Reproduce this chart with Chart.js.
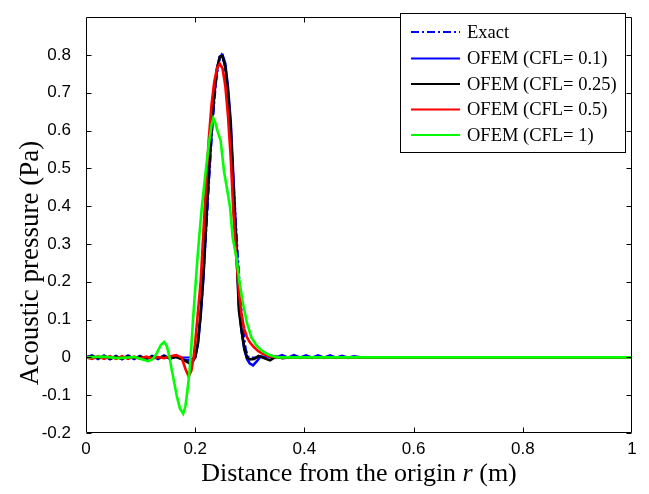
<!DOCTYPE html>
<html>
<head>
<meta charset="utf-8">
<script src="https://cdn.jsdelivr.net/npm/chart.js@4/dist/chart.umd.min.js"></script>
<style>
html,body{margin:0;padding:0;background:#fff;}
canvas{display:block;}
</style>
</head>
<body>
<canvas id="c" width="649" height="494"></canvas>
<script>
// ---- data ----
const seriesLabels = ["Exact", "OFEM (CFL= 0.1)", "OFEM (CFL= 0.25)", "OFEM (CFL= 0.5)", "OFEM (CFL= 1)"];
const xTitleParts = ["Distance from the origin ", "r", " (m)"];
const yTitle = "Acoustic pressure (Pa)";
const xTicks = [0, 0.2, 0.4, 0.6, 0.8, 1];
const yTicks = [-0.2, -0.1, 0, 0.1, 0.2, 0.3, 0.4, 0.5, 0.6, 0.7, 0.8];

const exactX = [0, 0.198, 0.203, 0.208, 0.213, 0.218, 0.223, 0.228, 0.233, 0.238, 0.243, 0.248, 0.253, 0.258, 0.263, 0.268, 0.273, 0.278, 0.283, 0.288, 0.293, 0.298, 1];
const exactY = [0, 0, 0.02, 0.076, 0.165, 0.276, 0.4, 0.524, 0.635, 0.724, 0.78, 0.8, 0.78, 0.724, 0.635, 0.524, 0.4, 0.276, 0.165, 0.076, 0.02, 0, 0];

const cfl01X = [0, 0.011, 0.022, 0.033, 0.044, 0.055, 0.066, 0.077, 0.088, 0.099, 0.110, 0.121, 0.132, 0.143, 0.154, 0.165, 0.176, 0.187, 0.195, 0.2,
  0.205, 0.21, 0.215, 0.22, 0.225, 0.23, 0.235, 0.24, 0.245, 0.25, 0.255, 0.26, 0.265, 0.27, 0.275, 0.28, 0.285, 0.29, 0.295, 0.3,
  0.306, 0.313, 0.32, 0.328, 0.337, 0.348, 0.359, 0.37, 0.381, 0.392, 0.403, 0.414, 0.425, 0.436, 0.447, 0.458, 0.469, 0.48, 0.491, 0.502, 0.52, 1];
const cfl01Y = [0, 0.005, -0.004, 0.005, -0.005, 0.004, -0.005, 0.005, -0.004, 0.004, -0.005, 0.004, -0.004, 0.005, -0.004, 0.003, -0.005, -0.008, -0.004, 0.0,
  0.035, 0.11, 0.21, 0.35, 0.48, 0.6, 0.695, 0.762, 0.795, 0.8, 0.778, 0.715, 0.625, 0.475, 0.32, 0.14, 0.07, 0.02, -0.005, -0.016,
  -0.021, -0.01, 0.003, 0.0, 0.006, -0.001, 0.006, -0.001, 0.006, -0.001, 0.005, -0.001, 0.005, -0.001, 0.005, -0.001, 0.004, -0.001, 0.003, 0, 0, 0];

const cfl025X = [0, 0.011, 0.022, 0.033, 0.044, 0.055, 0.066, 0.077, 0.088, 0.099, 0.11, 0.121, 0.132, 0.143, 0.154, 0.165, 0.175, 0.185, 0.19, 0.195, 0.2,
  0.205, 0.21, 0.215, 0.22, 0.225, 0.23, 0.235, 0.24, 0.245, 0.25, 0.255, 0.26, 0.265, 0.27, 0.275, 0.28, 0.285, 0.29, 0.295, 0.3,
  0.308, 0.316, 0.326, 0.337, 0.348, 0.36, 0.38, 0.4, 1];
const cfl025Y = [0, 0.003, -0.002, 0.003, -0.003, 0.002, -0.003, 0.003, -0.002, 0.002, -0.003, 0.002, -0.002, 0.003, -0.002, 0.001, -0.004, -0.012, -0.016, -0.012, 0.0,
  0.04, 0.12, 0.22, 0.36, 0.49, 0.61, 0.70, 0.765, 0.795, 0.797, 0.77, 0.705, 0.61, 0.45, 0.30, 0.125, 0.07, 0.025, 0.0, -0.005,
  -0.004, 0.004, -0.002, -0.008, 0.002, -0.002, 0.001, 0, 0];

const cfl05X = [0, 0.011, 0.022, 0.033, 0.044, 0.055, 0.066, 0.077, 0.088, 0.099, 0.11, 0.121, 0.132, 0.143, 0.155, 0.165, 0.175, 0.182, 0.188, 0.193, 0.197, 0.2,
  0.205, 0.21, 0.215, 0.22, 0.225, 0.23, 0.235, 0.24, 0.245, 0.25, 0.255, 0.26, 0.265, 0.27, 0.275, 0.28, 0.285, 0.29, 0.295, 0.3,
  0.307, 0.315, 0.325, 0.335, 0.35, 1];
const cfl05Y = [0, -0.004, 0.003, -0.004, 0.003, -0.004, 0.003, -0.004, 0.002, -0.003, 0.002, -0.003, 0.001, -0.002, 0.003, 0.006, 0.0, -0.03, -0.05, -0.035, 0.0, 0.04,
  0.12, 0.2, 0.33, 0.46, 0.58, 0.67, 0.73, 0.765, 0.777, 0.765, 0.72, 0.64, 0.53, 0.38, 0.27, 0.175, 0.11, 0.075, 0.053, 0.04,
  0.028, 0.017, 0.008, 0.003, 0, 0];

const cfl1X = [0, 0.03, 0.06, 0.09, 0.105, 0.114, 0.122, 0.13, 0.137, 0.143, 0.148, 0.153, 0.157, 0.162, 0.166, 0.172, 0.178, 0.182, 0.186, 0.19,
  0.193, 0.196, 0.2, 0.204, 0.208, 0.212, 0.219, 0.225, 0.23, 0.233, 0.237, 0.241, 0.2465, 0.253, 0.259, 0.264, 0.2685, 0.275, 0.281, 0.288,
  0.295, 0.303, 0.312, 0.322, 0.335, 0.35, 1];
const cfl1Y = [0, 0.002, -0.002, 0.001, -0.006, -0.01, -0.005, 0.012, 0.033, 0.041, 0.03, 0.0, -0.033, -0.07, -0.101, -0.135, -0.149, -0.13, -0.085, -0.03,
  0.03, 0.1, 0.18, 0.26, 0.33, 0.395, 0.49, 0.565, 0.615, 0.633, 0.62, 0.598, 0.574, 0.49, 0.44, 0.395, 0.318, 0.267, 0.2, 0.138,
  0.09, 0.053, 0.032, 0.018, 0.007, 0, 0];

// ---- build chart ----
function pts(xs, ys) { return xs.map((x, i) => ({x: x, y: ys[i]})); }

const colors = ['#0000ff', '#0000ff', '#000000', '#ff0000', '#00ff00'];
const dashes = [[8, 3, 2, 3], [], [], [], []];
const seriesX = [exactX, cfl01X, cfl025X, cfl05X, cfl1X];
const seriesY = [exactY, cfl01Y, cfl025Y, cfl05Y, cfl1Y];

const datasets = seriesLabels.map((lab, i) => ({
  label: lab,
  data: pts(seriesX[i], seriesY[i]),
  borderColor: colors[i],
  borderWidth: i === 0 ? 2 : 2.6,
  borderDash: dashes[i],
  pointRadius: 0,
  tension: 0,
  fill: false,
  order: 5 - i
}));

const framePlugin = {
  id: 'frame',
  afterDatasetsDraw(chart) {
    const ctx = chart.ctx;
    const a = chart.chartArea;
    const xs = chart.scales.x, ys = chart.scales.y;
    const L = Math.round(a.left) + 0.5, R = Math.round(a.right) - 0.5;
    const T = Math.round(a.top) + 0.5, B = Math.round(a.bottom) - 0.5;
    ctx.save();
    ctx.strokeStyle = '#000';
    ctx.lineWidth = 1;
    ctx.beginPath();
    ctx.rect(L, T, R - L, B - T);
    ctx.stroke();
    const tl = 5;
    ctx.beginPath();
    yTicks.forEach(v => {
      const p = Math.round(ys.getPixelForValue(v)) + 0.5;
      ctx.moveTo(L, p); ctx.lineTo(L + tl, p);
      ctx.moveTo(R, p); ctx.lineTo(R - tl, p);
    });
    xTicks.forEach(v => {
      if (v === 0 || v === 1) return;
      const p = Math.round(xs.getPixelForValue(v)) + 0.5;
      ctx.moveTo(p, B); ctx.lineTo(p, B - tl);
      ctx.moveTo(p, T); ctx.lineTo(p, T + tl);
    });
    ctx.stroke();

    // x-axis title with italic r
    const styles = ['normal', 'italic', 'normal'];
    const size = 26;
    const widths = [];
    let total = 0;
    xTitleParts.forEach((t, i) => { ctx.font = styles[i] + ' ' + size + 'px "Liberation Serif"'; widths[i] = ctx.measureText(t).width; total += widths[i]; });
    let x = (a.left + a.right) / 2 - total / 2;
    ctx.fillStyle = '#000';
    ctx.textBaseline = 'alphabetic';
    ctx.textAlign = 'left';
    xTitleParts.forEach((t, i) => { ctx.font = styles[i] + ' ' + size + 'px "Liberation Serif"'; ctx.fillText(t, x, 481); x += widths[i]; });

    // y-axis title
    ctx.save();
    ctx.translate(38, 263);
    ctx.rotate(-Math.PI / 2);
    ctx.font = '27px "Liberation Serif"';
    ctx.textAlign = 'center';
    ctx.textBaseline = 'alphabetic';
    ctx.fillText(yTitle, 0, 0);
    ctx.restore();

    // legend
    const bx = 400.5, by = 13.5, bw = 225, bh = 139;
    ctx.fillStyle = '#fff';
    ctx.fillRect(bx, by, bw, bh);
    ctx.strokeStyle = '#000';
    ctx.lineWidth = 1;
    ctx.strokeRect(bx, by, bw, bh);
    const rows = [32, 58.5, 84, 109.5, 135];
    ctx.font = '18.5px "Liberation Serif"';
    ctx.textBaseline = 'middle';
    chart.data.datasets.forEach((ds, i) => {
      const y = rows[i];
      ctx.strokeStyle = ds.borderColor;
      ctx.lineWidth = 2;
      ctx.setLineDash(ds.borderDash || []);
      ctx.beginPath(); ctx.moveTo(411, y); ctx.lineTo(460, y); ctx.stroke();
      ctx.setLineDash([]);
      ctx.fillStyle = '#000';
      ctx.fillText(ds.label, 467, y + 1);
    });
    ctx.restore();
  }
};

new Chart(document.getElementById('c'), {
  type: 'line',
  data: { datasets: datasets },
  options: {
    responsive: false,
    animation: false,
    devicePixelRatio: 1,
    layout: { padding: { top: 5, right: 17, left: 0, bottom: 0 } },
    plugins: { legend: { display: false }, tooltip: { enabled: false } },
    scales: {
      x: {
        type: 'linear', min: 0, max: 1, position: 'bottom',
        grid: { display: false }, border: { display: false },
        afterBuildTicks: s => { s.ticks = xTicks.map(v => ({value: v})); },
        afterFit: s => { s.height = 61; },
        ticks: { color: '#000', padding: -2, maxRotation: 0, autoSkip: false,
          font: { family: '"Liberation Sans"', size: 17 },
          callback: v => String(v) }
      },
      y: {
        type: 'linear', min: -0.2, max: 0.9, position: 'left',
        grid: { display: false }, border: { display: false },
        afterBuildTicks: s => { s.ticks = yTicks.map(v => ({value: v})); },
        afterFit: s => { s.width = 86; },
        ticks: { color: '#000', padding: 7, autoSkip: false,
          font: { family: '"Liberation Sans"', size: 17 },
          callback: v => String(v) }
      }
    }
  },
  plugins: [framePlugin]
});
</script>
</body>
</html>
